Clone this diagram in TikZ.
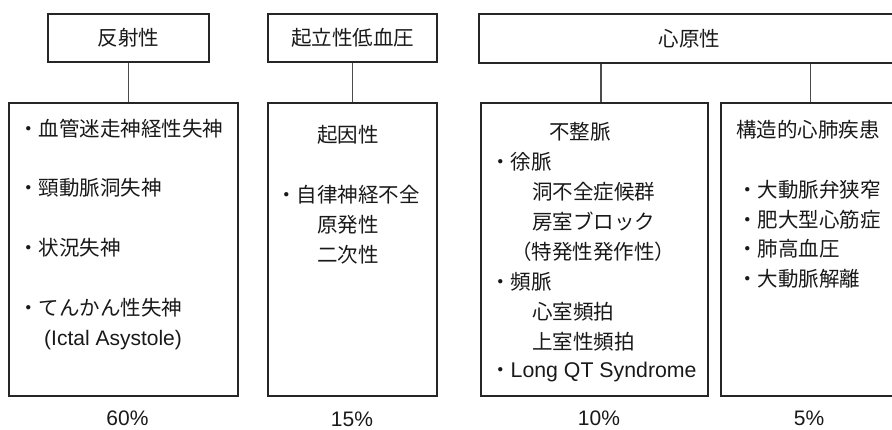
\documentclass[tikz,border=0pt]{standalone}
\usepackage{fontspec}
\setmainfont{Noto Sans CJK JP}
\newfontfamily\lat{Liberation Sans}
\usetikzlibrary{calc}
\begin{document}
\begin{tikzpicture}[x=1pt,y=-1pt,
  box/.style={draw=black!85, line width=1.1pt, rectangle, inner sep=0pt,
    font=\fontsize{20.5}{30}\selectfont, text=black!90},
  link/.style={draw=black!70, line width=1.1pt},
  txt/.style={anchor=west, inner sep=0pt, font=\fontsize{20.5}{30}\selectfont, text=black!90},
  pct/.style={inner sep=0pt, font=\lat\fontsize{21}{25}\selectfont, text=black!90}]
\useasboundingbox (0,0) rectangle (892,429);
\clip (0,0) rectangle (892,429);
% top boxes
\node[box, minimum width=161pt, minimum height=48pt] (t1) at (128.5,38) {反射性};
\node[box, minimum width=169pt, minimum height=48pt] (t2) at (352.5,38) {起立性低血圧};
\node[box, minimum width=421pt, minimum height=49pt] (t3) at (689.5,38.5) {心原性};
% bottom boxes
\node[box, minimum width=229pt, minimum height=293pt] (b1) at (123.5,249.5) {};
\node[box, minimum width=169pt, minimum height=293pt] (b2) at (352.5,249.5) {};
\node[box, minimum width=227pt, minimum height=293pt] (b3) at (594.5,249.5) {};
\node[box, minimum width=179pt, minimum height=293pt] (b4) at (810.5,249.5) {};
% connectors
\draw[link] (t1.south) -- (t1.south |- b1.north);
\draw[link] (t2.south) -- (b2.north);
\coordinate (c3) at ($(b3.north)+(6.5,0)$);
\draw[link] (t3.south -| c3) -- (c3);
\draw[link] (t3.south -| b4.north) -- (b4.north);
% box 1
\node[txt] (a1) at (18,129) {・血管迷走神経性失神};
\node[txt] (a2) at (18,188) {・頸動脈洞失神};
\node[txt] (a3) at (18,248) {・状況失神};
\node[txt] (a4) at (18,308) {・てんかん性失神};
\node[txt, font=\lat\fontsize{21}{30}\selectfont] (a5) at (44,340) {(Ictal Asystole)};
% box 2
\node[txt] (s1) at (317,135) {起因性};
\node[txt] (s2) at (276,195) {・自律神経不全};
\node[txt] (s3) at (317,225) {原発性};
\node[txt] (s4) at (317,255) {二次性};
% box 3
\node[txt] (r1) at (549,132) {不整脈};
\node[txt] (r2) at (490,162) {・徐脈};
\node[txt] (r3) at (532,192) {洞不全症候群};
\node[txt] (r4) at (532,222) {房室ブロック};
\node[txt] (r5) at (511,252) {（特発性発作性）};
\node[txt] (r6) at (490,282) {・頻脈};
\node[txt] (r7) at (532,312) {心室頻拍};
\node[txt] (r8) at (532,342) {上室性頻拍};
\node[txt] (r9) at (490,372) {・{\lat\fontsize{21.3}{30}\selectfont Long QT Syndrome}};
% box 4
\node[txt] (k1) at (736,130) {構造的心肺疾患};
\node[txt] (k2) at (737,190) {・大動脈弁狭窄};
\node[txt] (k3) at (737,219.5) {・肥大型心筋症};
\node[txt] (k4) at (737,249) {・肺高血圧};
\node[txt] (k5) at (737,279) {・大動脈解離};
% percentages
\node[pct] (p1) at (127.5,418) {60\%};
\node[pct] (p2) at (352,419) {15\%};
\node[pct] (p3) at (599,418) {10\%};
\node[pct] (p4) at (809,418) {5\%};
\end{tikzpicture}
\end{document}
